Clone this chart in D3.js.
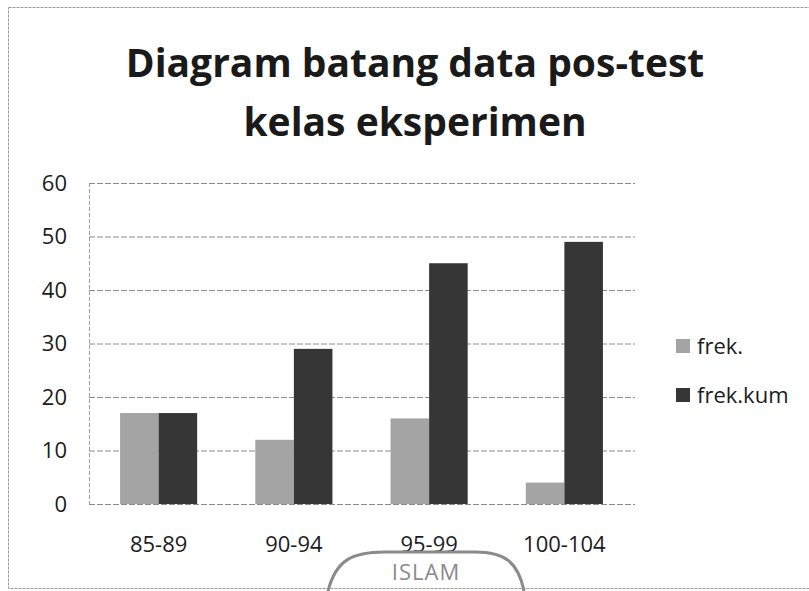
<!DOCTYPE html>
<html>
<head>
<meta charset="utf-8">
<script src="https://cdn.jsdelivr.net/npm/d3@7"></script>
<style>
  body { margin: 0; background: #fff; }
  text { font-family: "Open Sans", "Noto Sans", sans-serif; }
</style>
</head>
<body>
<div class="container"></div>
<script>
// chart data
var categories = ['85-89', '90-94', '95-99', '100-104'];
var seriesNames = ['frek.', 'frek.kum'];
var frek = [17, 12, 16, 4];
var frekKum = [17, 29, 45, 49];
var yTicks = [0, 10, 20, 30, 40, 50, 60];
var titleLines = ['Diagram batang data pos-test', 'kelas eksperimen'];

var width = 809, height = 591;
var colors = ['#a4a4a4', '#363636'];

var svg = d3.select('.container').append('svg')
    .attr('width', width).attr('height', height);

// outer chart border (scanned page)
svg.append('rect')
   .attr('x', 8.5).attr('y', 7.5).attr('width', 820).attr('height', 581)
   .attr('fill', 'none').attr('stroke', '#9a9a9a').attr('stroke-dasharray', '3,1');

var plot = {left: 89, right: 635, top: 183, bottom: 504};

var x = d3.scaleBand().domain(categories)
    .range([91, 632]).paddingInner(0.43).paddingOuter(0.215);
var x1 = d3.scaleBand().domain(seriesNames).range([0, x.bandwidth()]);
var y = d3.scaleLinear().domain([0, 60]).range([plot.bottom, plot.top]);

// gridlines
svg.append('g').selectAll('line')
   .data(yTicks)
   .enter().append('line')
   .attr('x1', plot.left).attr('x2', plot.right)
   .attr('y1', function (d) { return y(d) + 0.5; })
   .attr('y2', function (d) { return y(d) + 0.5; })
   .attr('stroke', '#8c8c8c').attr('stroke-dasharray', '6,2');

svg.append('line')
   .attr('x1', plot.left + 0.5).attr('x2', plot.left + 0.5)
   .attr('y1', plot.top).attr('y2', plot.bottom)
   .attr('stroke', '#a0a0a0').attr('stroke-dasharray', '4,2');

// y axis labels
var yAxis = d3.axisLeft(y).tickValues(yTicks).tickSize(0).tickPadding(22);
var ya = svg.append('g').attr('transform', 'translate(' + plot.left + ',0)').call(yAxis);
ya.select('.domain').remove();
ya.selectAll('text').attr('font-size', 22).attr('fill', '#1c1c1c')
  .style('font-family', '"Open Sans", sans-serif');

// bars
var rows = categories.map(function (c, i) {
    return {cat: c, values: [frek[i], frekKum[i]]};
});
var groups = svg.append('g').selectAll('g')
   .data(rows)
   .enter().append('g')
   .attr('transform', function (d) { return 'translate(' + x(d.cat) + ',0)'; });

groups.selectAll('rect')
   .data(function (d) {
      return d.values.map(function (v, j) { return {name: seriesNames[j], value: v, j: j}; });
   })
   .enter().append('rect')
   .attr('x', function (d) { return x1(d.name); })
   .attr('width', x1.bandwidth())
   .attr('y', function (d) { return y(d.value); })
   .attr('height', function (d) { return y(0) - y(d.value); })
   .attr('fill', function (d) { return colors[d.j]; });

// x axis labels
var xAxis = d3.axisBottom(x).tickSize(0).tickPadding(32);
var xa = svg.append('g').attr('transform', 'translate(0,' + plot.bottom + ')').call(xAxis);
xa.select('.domain').remove();
xa.selectAll('text').attr('font-size', 22).attr('fill', '#1c1c1c')
  .style('font-family', '"Open Sans", sans-serif');

// title
svg.append('g').selectAll('text')
   .data(titleLines)
   .enter().append('text')
   .attr('x', 415)
   .attr('y', function (d, i) { return 77 + i * 59; })
   .attr('text-anchor', 'middle')
   .attr('font-size', 39).attr('font-weight', 'bold').attr('fill', '#1a1a1a')
   .text(function (d) { return d; });

// legend
var legend = svg.append('g').selectAll('g')
   .data(seriesNames)
   .enter().append('g')
   .attr('transform', function (d, i) { return 'translate(676,' + (346 + i * 49) + ')'; });
legend.append('rect')
   .attr('x', 0).attr('y', -7).attr('width', 14).attr('height', 14)
   .attr('fill', function (d, i) { return colors[i]; });
legend.append('text')
   .attr('x', 21).attr('y', 8)
   .attr('font-size', 22).attr('fill', '#1c1c1c')
   .text(function (d) { return d; });

// stamp watermark at the bottom of the scan
svg.append('path')
   .attr('d', 'M328,591 C336,560 352,552 385,552 L475,552 C505,552 518,562 524,591')
   .attr('fill', 'none').attr('stroke', '#8a8a8a').attr('stroke-width', 3);
svg.append('text')
   .attr('x', 426).attr('y', 580).attr('text-anchor', 'middle')
   .attr('font-size', 22).attr('fill', '#8a8a8a').attr('letter-spacing', 1)
   .text('ISLAM');
</script>
</body>
</html>
